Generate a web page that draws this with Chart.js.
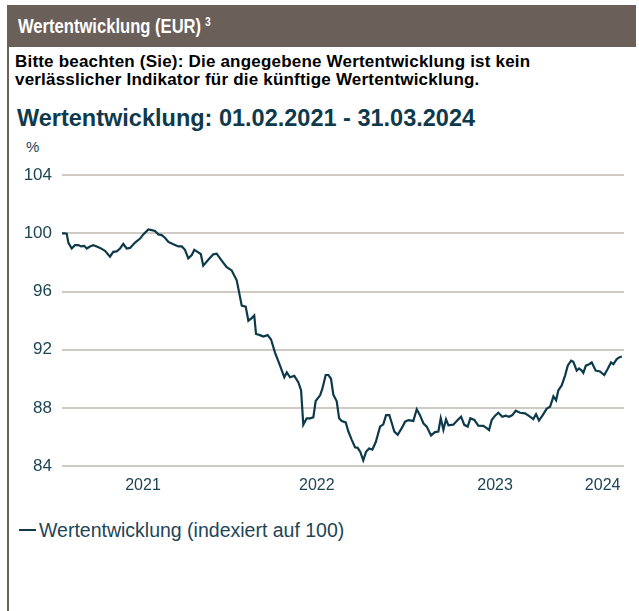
<!DOCTYPE html>
<html>
<head>
<meta charset="utf-8">
<script src="https://cdn.jsdelivr.net/npm/chart.js@4"></script>
<style>
    body { margin: 0; width: 639px; height: 611px; background: #fff; position: relative; overflow: hidden;
           font-family: "Liberation Sans", Arial, sans-serif; }
    .header { position: absolute; left: 7px; top: 5px; width: 629px; height: 42px; background: #6b5f59; }
    .header span { position: absolute; left: 11px; top: 9px; color: #fff; font-weight: bold; font-size: 21px; white-space: nowrap;
                   transform: scaleX(0.79); transform-origin: left center; }
    .header sup { font-size: 13px; vertical-align: 7px; margin-left: 5px; }
    .side-line { position: absolute; left: 7px; top: 47px; width: 2px; height: 564px; background: #6b5f59; }
    .note { position: absolute; left: 15px; top: 53px; font-weight: bold; font-size: 17px; line-height: 18px; letter-spacing: 0.2px; color: #000; white-space: nowrap; }
    .title { position: absolute; left: 17px; top: 105px; font-weight: bold; font-size: 23.5px; color: #0e3a4c; white-space: nowrap; }
    .unit { position: absolute; left: 26px; top: 138px; font-size: 15px; color: #1e4556; }
    .legend { position: absolute; left: 19px; top: 519px; font-size: 19.5px; color: #1e4556; white-space: nowrap; }
    .legend i { display: inline-block; width: 17px; height: 2px; background: #0e3a4c; vertical-align: 6px; margin-right: 3px; }
    #chart-box { position: absolute; left: 0; top: 155px; width: 639px; height: 345px; }
</style>
</head>
<body>
<div class="header"><span>Wertentwicklung (EUR)<sup>3</sup></span></div>
<div class="side-line"></div>
<div class="note">Bitte beachten (Sie): Die angegebene Wertentwicklung ist kein<br>verlässlicher Indikator für die künftige Wertentwicklung.</div>
<div class="title">Wertentwicklung: 01.02.2021 - 31.03.2024</div>
<div class="unit">%</div>
<div id="chart-box"><canvas id="perfChart"></canvas></div>
<div class="legend"><i></i>Wertentwicklung (indexiert auf 100)</div>

<script>
// months elapsed since 01.02.2021
const months = [
    0.00, 0.20, 0.32, 0.43, 0.66, 0.88, 1.11, 1.29, 1.51, 1.68, 1.90, 2.12, 2.36, 2.58, 2.92, 3.26,
    3.48, 3.71, 3.94, 4.16, 4.39, 4.62, 4.96, 5.30, 5.52, 5.86, 6.09, 6.31, 6.54, 6.77, 6.99, 7.22,
    7.56, 7.90, 8.13, 8.35, 8.57, 8.81, 8.98, 9.25, 9.42, 9.59, 9.93, 10.27, 10.50, 10.84, 11.18, 11.52,
    11.86, 12.20, 12.47, 12.65, 12.88, 13.05, 13.17, 13.44, 13.67, 13.96, 14.19, 14.46, 14.80, 15.09,
    15.26, 15.48, 15.77, 16.04, 16.23, 16.38, 16.61, 16.84, 17.06, 17.22, 17.52, 17.67, 17.90, 18.08,
    18.26, 18.42, 18.65, 18.81, 18.99, 19.26, 19.44, 19.67, 19.89, 20.07, 20.25, 20.45, 20.64, 20.84,
    21.07, 21.30, 21.59, 21.81, 22.00, 22.22, 22.39, 22.56, 22.79, 23.06, 23.29, 23.51, 23.85, 24.08,
    24.30, 24.53, 24.76, 25.05, 25.32, 25.55, 25.71, 25.89, 26.07, 26.23, 26.56, 26.86, 27.09, 27.31,
    27.54, 27.72, 27.99, 28.26, 28.60, 28.83, 28.99, 29.17, 29.40, 29.62, 29.89, 30.12, 30.35, 30.57,
    30.80, 31.09, 31.43, 31.77, 31.99, 32.18, 32.38, 32.61, 32.91, 33.13, 33.36, 33.54, 33.69, 33.92,
    34.15, 34.33, 34.56, 34.71, 34.94, 35.10, 35.28, 35.39, 35.56, 35.78, 35.96, 36.23, 36.52, 36.81,
    37.04, 37.27, 37.43, 37.66, 37.88, 38.00
];
const values = [
    100.00, 100.00, 99.98, 99.37, 98.96, 99.19, 99.19, 99.10, 99.14, 98.96, 99.10, 99.19, 99.10, 99.00, 98.80, 98.40,
    98.73, 98.76, 98.96, 99.27, 98.96, 99.00, 99.37, 99.64, 99.93, 100.27, 100.22, 100.16, 99.93, 99.88, 99.70, 99.41,
    99.25, 99.10, 99.10, 98.87, 98.28, 98.51, 98.87, 98.69, 98.58, 97.78, 98.19, 98.56, 98.60, 98.13, 97.67, 97.45,
    96.77, 95.03, 94.96, 93.99, 94.17, 94.35, 93.08, 93.00, 92.90, 93.00, 92.70, 91.80, 90.90, 90.10,
    90.44, 90.10, 90.20, 89.76, 89.20, 86.83, 87.28, 87.28, 87.35, 88.47, 88.86, 89.30, 90.26, 90.26,
    90.00, 88.90, 88.45, 87.28, 87.10, 87.00, 86.37, 85.80, 85.29, 85.25, 84.97, 84.39, 84.97, 85.20,
    85.13, 85.65, 86.71, 86.87, 87.50, 87.50, 86.94, 86.37, 86.15, 86.60, 87.05, 87.16, 87.10, 87.90,
    87.50, 86.94, 86.71, 86.10, 86.33, 86.37, 87.28, 86.49, 87.21, 86.80, 86.84, 87.16, 87.39, 86.83,
    86.71, 87.28, 87.17, 86.78, 86.76, 86.60, 86.47, 87.16, 87.46, 87.66, 87.39, 87.46, 87.39, 87.50,
    87.80, 87.66, 87.62, 87.39, 87.23, 87.57, 87.12, 87.46, 87.95, 88.07, 88.79, 88.52, 89.20, 89.54,
    90.22, 90.90, 91.24, 91.17, 90.56, 90.71, 90.56, 90.40, 90.90, 91.00, 91.12, 90.56, 90.50, 90.26,
    90.67, 91.12, 91.00, 91.35, 91.50, 91.52
];
const yearLabels = ['2021', '2022', '2023', '2024'];
const yearTickMonths = [5.5, 17.3, 29.4, 36.7];
const yTicks = [84, 88, 92, 96, 100, 104];

const lineColor = '#0d3a4b';
const gridColor = '#d0cac4';
const tickColor = '#1e4556';

const points = months.map((m, i) => ({ x: m, y: values[i] }));

new Chart(document.getElementById('perfChart').getContext('2d'), {
    type: 'line',
    data: {
        datasets: [{
            label: 'Wertentwicklung (indexiert auf 100)',
            data: points,
            borderColor: lineColor,
            borderWidth: 2.2,
            pointRadius: 0,
            tension: 0,
            fill: false
        }]
    },
    options: {
        responsive: true, maintainAspectRatio: false, animation: false,
        layout: { padding: { top: 16, right: 15, left: 0, bottom: 0 } },
        plugins: { legend: { display: false }, tooltip: { enabled: false } },
        scales: {
            x: {
                type: 'linear', min: 0, max: 38.15,
                afterBuildTicks: scale => { scale.ticks = yearTickMonths.map(v => ({ value: v })); },
                afterFit: scale => { scale.height = 34; },
                grid: { display: false, drawTicks: false },
                border: { display: false },
                ticks: {
                    autoSkip: false, maxRotation: 0, padding: 10,
                    color: tickColor, font: { family: 'Liberation Sans', size: 16 },
                    callback: (v, i) => yearLabels[i]
                }
            },
            y: {
                min: 84, max: 104,
                afterBuildTicks: scale => { scale.ticks = yTicks.map(v => ({ value: v })); },
                afterFit: scale => { scale.width = 62; },
                grid: { color: gridColor, lineWidth: 2, drawTicks: false },
                border: { display: false },
                ticks: { padding: 10, color: tickColor, font: { family: 'Liberation Sans', size: 17 } }
            }
        }
    }
});
</script>
</body>
</html>
